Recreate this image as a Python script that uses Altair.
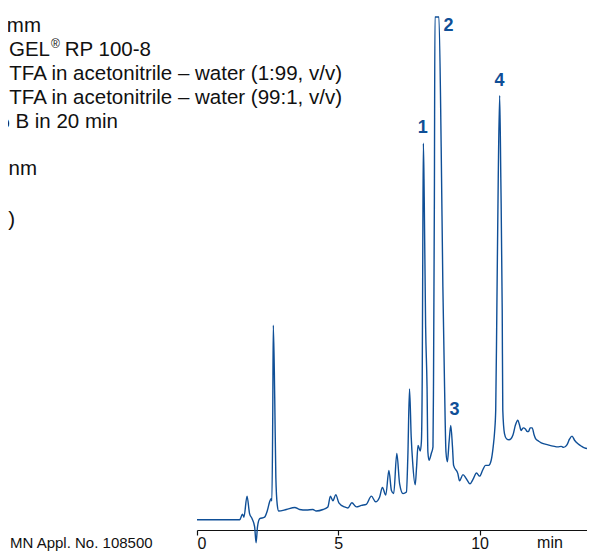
import altair as alt
import pandas as pd

# Chromatogram trace: retention time (min) and detector signal (relative units)
time_min = [0.00, 1.51, 1.61, 1.66, 1.77, 1.86, 1.95, 2.04, 2.09, 2.14, 2.22, 2.39, 2.49, 2.57, 2.62, 2.65,
            2.68, 2.70, 2.75, 2.79, 2.84, 2.89, 3.16, 3.46, 3.63, 3.87, 4.10, 4.22, 4.46, 4.63, 4.72, 4.81,
            4.91, 5.02, 5.22, 5.34, 5.48, 5.64, 5.82, 5.99, 6.17, 6.32, 6.46, 6.56, 6.68, 6.79, 6.88, 6.96,
            7.07, 7.17, 7.29, 7.41, 7.46, 7.52, 7.58, 7.63, 7.72, 7.77, 7.82, 7.90, 7.94, 7.97, 7.99, 8.01,
            8.04, 8.09, 8.14, 8.17, 8.21, 8.29, 8.35, 8.37, 8.40, 8.42, 8.56, 8.64, 8.70, 8.76, 8.81, 8.86,
            8.92, 8.98, 9.04, 9.08, 9.23, 9.29, 9.41, 9.53, 9.66, 9.77, 9.89, 10.00, 10.11, 10.21, 10.32,
            10.41, 10.48, 10.53, 10.57, 10.61, 10.66, 10.71, 10.75, 10.80, 10.82, 10.88, 10.95, 11.04, 11.11,
            11.18, 11.27, 11.35, 11.41, 11.47, 11.54, 11.62, 11.68, 11.73, 11.79, 11.86, 11.93, 11.98, 12.09,
            12.18, 12.42, 12.65, 12.76, 12.89, 12.97, 13.09, 13.18, 13.27, 13.36, 13.48, 13.61, 13.71, 13.89,
            14.07]
signal = [2.0, 2.0, 3.1, 2.5, 6.6, 3.2, 2.2, 0.6, -2.5, 0.6, 2.2, 2.5, 3.8, 5.5, 6.1, 5.7,
          22.0, 39.9, 25.9, 10.3, 4.9, 3.7, 4.0, 4.4, 4.0, 3.9, 4.0, 3.7, 4.0, 4.5, 6.6, 5.7,
          6.9, 5.3, 4.5, 4.3, 5.3, 4.5, 4.8, 5.0, 6.6, 5.5, 6.4, 8.3, 6.8, 11.6, 7.7, 7.1,
          14.9, 9.0, 7.1, 7.4, 14.2, 27.5, 18.1, 13.3, 8.8, 12.3, 16.5, 15.4, 17.2, 29.8, 55.2, 75.4,
          64.9, 39.6, 27.9, 15.2, 13.6, 14.9, 16.2, 29.8, 64.9, 100.0, 100.0, 74.7, 47.4, 27.9, 15.2, 13.3,
          17.2, 20.4, 16.2, 12.6, 11.0, 9.6, 10.8, 10.0, 9.0, 9.9, 11.1, 10.5, 11.7, 12.6, 12.6,
          13.6, 16.2, 19.1, 23.4, 42.9, 68.8, 84.7, 68.8, 42.9, 23.4, 18.8, 17.8, 17.6, 17.8,
          18.5, 20.5, 21.4, 20.5, 19.4, 19.9, 19.7, 19.2, 19.2, 19.9, 19.9, 18.5, 17.8, 17.3,
          17.0, 16.6, 16.3, 16.2, 16.3, 16.1, 16.6, 17.7, 18.3, 17.5, 16.8, 16.3, 16.0, 15.8,
          15.7]

peak_names = ["1", "2", "3", "4"]
peak_label_t = [7.99, 8.90, 9.11, 10.70]
peak_label_v = [78.4, 98.2, 23.4, 87.5]

x_ticks = [0, 5, 10]

condition_lines = [
    "mm",
    "GEL",
    "®",
    "RP 100-8",
    "TFA in acetonitrile – water (1:99, v/v)",
    "TFA in acetonitrile – water (99:1, v/v)",
    "% B in 20 min",
    "nm",
    ")",
]
footnote = "MN Appl. No. 108500"
x_unit = "min"

BLUE = "#0f4f97"
INK = "#111111"
FONT = "Liberation Sans"

trace = pd.DataFrame({"t": time_min, "v": signal})
peaks = pd.DataFrame({"name": peak_names, "t": peak_label_t, "v": peak_label_v})
one = pd.DataFrame({"a": [0]})

x_scale = alt.Scale(domain=[0, 13.80], nice=False, zero=False)
y_scale = alt.Scale(domain=[0, 100], nice=False, zero=False)

line = alt.Chart(trace).mark_line(color=BLUE, strokeWidth=1.4, interpolate="monotone").encode(
    x=alt.X("t:Q", scale=x_scale,
            axis=alt.Axis(values=x_ticks, title=None, grid=False, domainColor=INK,
                          domainWidth=1.2, tickColor=INK, tickWidth=1.2, tickSize=5,
                          labelFontSize=16, labelColor=INK, labelPadding=13, labelFont=FONT,
                          labelBaseline="alphabetic", format="d")),
    y=alt.Y("v:Q", scale=y_scale, axis=None),
)

peak_text = alt.Chart(peaks).mark_text(
    color=BLUE, fontSize=18, fontWeight="bold", font=FONT, align="center", baseline="middle"
).encode(
    x=alt.X("t:Q", scale=x_scale),
    y=alt.Y("v:Q", scale=y_scale),
    text="name:N",
)

# anchor (px from plot origin), alignment and size of the condition texts
line_style = [
    (-156, 15, "right", 20.5),
    (-147, 39, "right", 20.5),
    (-146, 31, "left", 12),
    (-46, 39, "right", 20.5),
    (145, 63, "right", 20.5),
    (145, 87, "right", 20.5),
    (-79, 111, "right", 20.5),
    (-160, 158, "right", 20.5),
    (-182, 209, "right", 20.5),
]
layers = [line, peak_text]
for txt, (px, py, al, fs) in zip(condition_lines, line_style):
    layers.append(
        alt.Chart(one).mark_text(text=txt, align=al, baseline="alphabetic", fontSize=fs,
                                 font=FONT, color=INK)
        .encode(x=alt.value(px), y=alt.value(py))
    )

layers.append(
    alt.Chart(one).mark_text(text=footnote, align="left", baseline="alphabetic", fontSize=15,
                             font=FONT, color=INK)
    .encode(x=alt.value(-187), y=alt.value(531))
)
layers.append(
    alt.Chart(one).mark_text(text=x_unit, align="center", baseline="alphabetic", fontSize=16,
                             font=FONT, color=INK)
    .encode(x=alt.value(353), y=alt.value(531))
)

chart = alt.layer(*layers).properties(
    width=390,
    height=513,
    padding={"left": 189, "top": 9, "right": 0, "bottom": 21},
    autosize=alt.AutoSizeParams(type="none"),
    background="white",
).configure_view(stroke=None)

chart.save("out.html", embed_options={"renderer": "svg", "actions": False})
